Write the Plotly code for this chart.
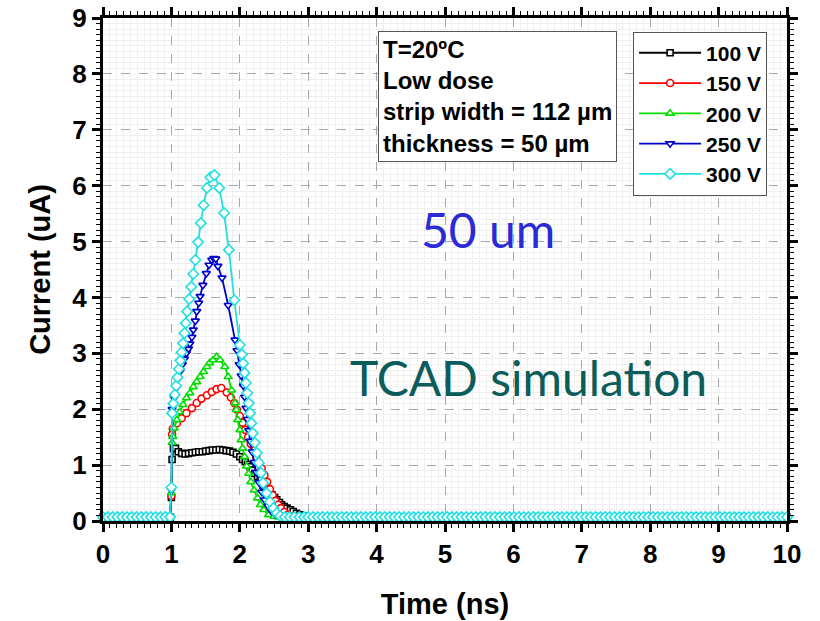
import plotly.graph_objects as go

# ---- transient current data (time in ns, current in uA) ----
# baseline before the laser pulse, shared by all biases
t_pre = [0.00, 0.07, 0.14, 0.21, 0.28, 0.35, 0.42, 0.49, 0.56, 0.63, 0.70, 0.77, 0.84, 0.91, 0.98]
i_pre = [0.07, 0.07, 0.07, 0.07, 0.07, 0.07, 0.07, 0.07, 0.07, 0.07, 0.07, 0.07, 0.07, 0.07, 0.07]

# 100 V
t_100 = [1.00, 1.01, 1.03, 1.06,
         1.10, 1.15, 1.20, 1.25, 1.30, 1.35, 1.40, 1.45, 1.50, 1.55, 1.60, 1.65, 1.70, 1.75, 1.80, 1.85, 1.90, 1.95, 2.00,
         2.04, 2.08, 2.11, 2.15, 2.18, 2.22, 2.26, 2.30, 2.34, 2.38, 2.42, 2.47, 2.51, 2.54, 2.58, 2.61, 2.65, 2.69, 2.74,
         2.78, 2.83, 2.88, 2.94]
i_100 = [0.42, 1.10, 1.30, 1.30,
         1.24, 1.21, 1.20, 1.21, 1.22, 1.23, 1.24, 1.24, 1.25, 1.26, 1.27, 1.27, 1.28, 1.27, 1.26, 1.25, 1.23, 1.20, 1.15,
         1.10, 1.06, 1.01, 0.97, 0.91, 0.85, 0.79, 0.73, 0.64, 0.59, 0.55, 0.47, 0.42, 0.38, 0.33, 0.29, 0.26, 0.23, 0.20,
         0.17, 0.14, 0.11, 0.09]

# 150 V
t_150 = [1.00, 1.01, 1.02,
         1.08, 1.15, 1.22, 1.30, 1.37, 1.44, 1.52, 1.59, 1.66, 1.73,
         1.81, 1.87, 1.92, 1.96,
         2.00, 2.04, 2.08, 2.12, 2.16, 2.20, 2.24, 2.28, 2.32, 2.36, 2.40, 2.44, 2.48, 2.52, 2.56, 2.60,
         2.65, 2.70, 2.76, 2.82, 2.88, 2.94]
i_150 = [0.45, 1.55, 1.65,
         1.75, 1.84, 1.93, 2.02, 2.11, 2.19, 2.25, 2.31, 2.36, 2.38,
         2.30, 2.21, 2.11, 1.99,
         1.88, 1.76, 1.63, 1.50, 1.38, 1.26, 1.14, 1.04, 0.94, 0.82, 0.70, 0.57, 0.46, 0.36, 0.29, 0.23,
         0.16, 0.11, 0.08, 0.07, 0.07, 0.07]

# 200 V
t_200 = [1.00, 1.01, 1.02, 1.04,
         1.08, 1.12, 1.17, 1.22, 1.27, 1.32, 1.37, 1.42, 1.47, 1.52, 1.56, 1.61, 1.66,
         1.71, 1.78, 1.83, 1.88, 1.93, 1.95, 1.97,
         2.00, 2.02, 2.04, 2.07, 2.10, 2.13, 2.16, 2.21, 2.26, 2.30, 2.35, 2.42, 2.50,
         2.57, 2.64, 2.71, 2.78, 2.85, 2.92]
i_200 = [0.50, 1.40, 1.51, 1.66,
         1.81, 1.95, 2.08, 2.20, 2.29, 2.40, 2.49, 2.58, 2.67, 2.76, 2.83, 2.88, 2.94,
         2.88, 2.76, 2.58, 2.34, 2.11, 1.99, 1.81,
         1.63, 1.45, 1.30, 1.15, 0.98, 0.85, 0.70, 0.55, 0.41, 0.29, 0.20, 0.11, 0.08,
         0.07, 0.07, 0.07, 0.07, 0.07, 0.07]

# 250 V
t_250 = [1.00, 1.01, 1.04, 1.07, 1.10, 1.13, 1.16, 1.19, 1.22, 1.25,
         1.27, 1.30, 1.32, 1.35, 1.37, 1.40, 1.42, 1.46, 1.51, 1.55,
         1.59, 1.62, 1.65, 1.68, 1.74, 1.83, 1.93, 1.96, 1.99, 2.02,
         2.05, 2.07, 2.09, 2.11, 2.13, 2.15, 2.18, 2.21, 2.24, 2.28,
         2.32, 2.36, 2.41, 2.46, 2.52, 2.58, 2.65, 2.72, 2.79, 2.86,
         2.93]
i_250 = [0.55, 2.00, 2.20, 2.38, 2.55, 2.68, 2.80, 2.90, 3.00, 3.08,
         3.17, 3.29, 3.42, 3.58, 3.75, 3.90, 4.02, 4.22, 4.43, 4.58,
         4.67, 4.70, 4.69, 4.56, 4.35, 3.86, 3.24, 3.05, 2.80, 2.60,
         2.42, 2.22, 2.02, 1.82, 1.62, 1.43, 1.24, 1.05, 0.87, 0.69,
         0.52, 0.38, 0.27, 0.18, 0.12, 0.08, 0.07, 0.07, 0.07, 0.07,
         0.07]

# 300 V
t_300 = [1.00, 1.01, 1.03, 1.05, 1.07, 1.09, 1.11, 1.13, 1.15, 1.17,
         1.19, 1.21, 1.23, 1.26, 1.29, 1.32, 1.35, 1.39, 1.43, 1.47,
         1.52, 1.57, 1.63, 1.70, 1.77, 1.84, 1.92, 2.00, 2.03, 2.05,
         2.07, 2.09, 2.11, 2.13, 2.15, 2.17, 2.19, 2.22, 2.25, 2.28,
         2.31, 2.34, 2.39, 2.44, 2.49, 2.54, 2.59, 2.66, 2.73, 2.80,
         2.87, 2.94]
i_300 = [0.60, 1.93, 2.10, 2.26, 2.42, 2.57, 2.72, 2.87, 3.02, 3.18,
         3.36, 3.54, 3.75, 3.97, 4.19, 4.42, 4.67, 4.99, 5.33, 5.65,
         5.96, 6.15, 6.19, 5.96, 5.51, 4.85, 3.95, 3.15, 2.98, 2.82,
         2.65, 2.47, 2.29, 2.11, 1.93, 1.75, 1.57, 1.40, 1.22, 1.04,
         0.86, 0.68, 0.50, 0.34, 0.23, 0.14, 0.09, 0.07, 0.07, 0.07,
         0.07, 0.07]

# settled baseline after the pulse, shared by all biases
t_tail = [3.00, 3.07, 3.14, 3.21, 3.28, 3.35, 3.42, 3.49, 3.56, 3.63, 3.70, 3.77, 3.84, 3.91, 3.98, 4.05, 4.12, 4.19,
          4.26, 4.33, 4.40, 4.47, 4.54, 4.61, 4.68, 4.75, 4.82, 4.89, 4.96, 5.03, 5.10, 5.17, 5.24, 5.31, 5.38, 5.45,
          5.52, 5.59, 5.66, 5.73, 5.80, 5.87, 5.94, 6.01, 6.08, 6.15, 6.22, 6.29, 6.36, 6.43, 6.50, 6.57, 6.64, 6.71,
          6.78, 6.85, 6.92, 6.99, 7.06, 7.13, 7.20, 7.27, 7.34, 7.41, 7.48, 7.55, 7.62, 7.69, 7.76, 7.83, 7.90, 7.97,
          8.04, 8.11, 8.18, 8.25, 8.32, 8.39, 8.46, 8.53, 8.60, 8.67, 8.74, 8.81, 8.88, 8.95, 9.02, 9.09, 9.16, 9.23,
          9.30, 9.37, 9.44, 9.51, 9.58, 9.65, 9.72, 9.79, 9.86, 9.93, 10.00]
i_tail = [0.07, 0.07, 0.07, 0.07, 0.07, 0.07, 0.07, 0.07, 0.07, 0.07, 0.07, 0.07, 0.07, 0.07, 0.07, 0.07, 0.07, 0.07,
          0.07, 0.07, 0.07, 0.07, 0.07, 0.07, 0.07, 0.07, 0.07, 0.07, 0.07, 0.07, 0.07, 0.07, 0.07, 0.07, 0.07, 0.07,
          0.07, 0.07, 0.07, 0.07, 0.07, 0.07, 0.07, 0.07, 0.07, 0.07, 0.07, 0.07, 0.07, 0.07, 0.07, 0.07, 0.07, 0.07,
          0.07, 0.07, 0.07, 0.07, 0.07, 0.07, 0.07, 0.07, 0.07, 0.07, 0.07, 0.07, 0.07, 0.07, 0.07, 0.07, 0.07, 0.07,
          0.07, 0.07, 0.07, 0.07, 0.07, 0.07, 0.07, 0.07, 0.07, 0.07, 0.07, 0.07, 0.07, 0.07, 0.07, 0.07, 0.07, 0.07,
          0.07, 0.07, 0.07, 0.07, 0.07, 0.07, 0.07, 0.07, 0.07, 0.07, 0.07]

labels = ["100 V", "150 V", "200 V", "250 V", "300 V"]
times = [t_100, t_150, t_200, t_250, t_300]
currents = [i_100, i_150, i_200, i_250, i_300]
colors = ["#000000", "#ff0000", "#00dd00", "#0000cc", "#22e0e0"]
symbols = ["square", "circle", "triangle-up", "triangle-down", "diamond"]
msizes = [6, 7, 7, 7, 8]

BOLD = "Liberation Sans, Arial, sans-serif"

fig = go.Figure()
for k in range(len(labels)):
    fig.add_trace(go.Scatter(
        x=t_pre + times[k] + t_tail,
        y=i_pre + currents[k] + i_tail,
        mode="lines+markers",
        name=labels[k],
        line=dict(color=colors[k], width=1.8),
        marker=dict(symbol=symbols[k], size=msizes[k], color="white",
                    line=dict(color=colors[k], width=1.6)),
        cliponaxis=False,
    ))

tickfont = dict(family=BOLD, size=26, color="black", weight="bold")
titlefont = dict(family=BOLD, size=29, color="black", weight="bold")

# boxed frame: ticks mirrored on top/right, faint sub-grid with small ticks
axis_style = dict(showline=True, linewidth=3, linecolor="black", mirror="ticks", zeroline=False,
                  automargin=False, tick0=0, dtick=1, ticks="outside", ticklen=8, tickwidth=2.5,
                  tickcolor="black", showgrid=True, gridcolor="#a8a8a8", griddash="dash", gridwidth=1,
                  minor=dict(tick0=0, dtick=0.1, ticks="outside", ticklen=4, tickwidth=1.3,
                             tickcolor="black", showgrid=True, gridcolor="#efefef", gridwidth=1,
                             griddash="solid"),
                  tickfont=tickfont)

fig.update_layout(
    width=820, height=621, autosize=False,
    margin=dict(l=103, r=33, t=18, b=100),
    paper_bgcolor="white", plot_bgcolor="white",
    xaxis=dict(range=[0, 10], title=dict(text="Time (ns)", font=titlefont, standoff=26), **axis_style),
    yaxis=dict(range=[0, 9], title=dict(text="Current (uA)", font=titlefont, standoff=14), **axis_style),
    legend=dict(x=0.775, y=0.973, xanchor="left", yanchor="top",
                bgcolor="white", bordercolor="#555555", borderwidth=1,
                font=dict(family=BOLD, size=21, color="black", weight="bold"),
                itemwidth=62, traceorder="normal"),
    showlegend=True,
)

# condition box
fig.add_annotation(
    xref="paper", yref="paper", x=0.402, y=0.974, xanchor="left", yanchor="top",
    text="T=20ºC<br>Low dose<br>strip width = 112 µm<br>thickness = 50 µm",
    align="left", showarrow=False,
    font=dict(family=BOLD, size=24, color="black", weight="bold"),
    bgcolor="white", bordercolor="#555555", borderwidth=1, borderpad=4,
)

fig.add_annotation(x=5.63, y=5.22, text="50 um", showarrow=False,
                   font=dict(family="Lato, Open Sans, sans-serif", size=48, color="#2b2bd6"))
fig.add_annotation(x=6.22, y=2.56, text="TCAD simulation", showarrow=False,
                   font=dict(family="Lato, Open Sans, sans-serif", size=48, color="#0b5c5a"))

fig.write_html("out.html")
